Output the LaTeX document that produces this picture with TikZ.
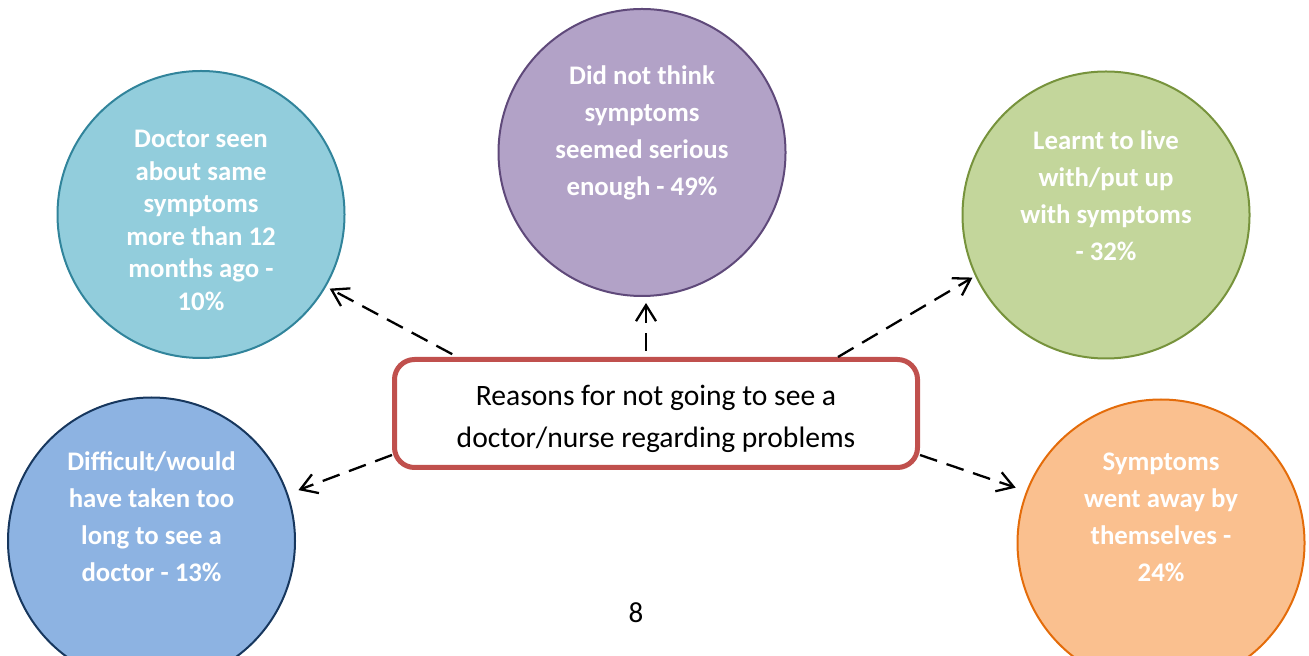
\documentclass[tikz,border=0pt]{standalone}
\usepackage{fontspec}
\setmainfont{Carlito}
\usetikzlibrary{arrows.meta}

\definecolor{seenfill}{HTML}{92CDDC}
\definecolor{seenline}{HTML}{31849B}
\definecolor{seriousfill}{HTML}{B2A2C7}
\definecolor{seriousline}{HTML}{5F497A}
\definecolor{livefill}{HTML}{C3D69B}
\definecolor{liveline}{HTML}{77933C}
\definecolor{longfill}{HTML}{8DB3E2}
\definecolor{longline}{HTML}{17375E}
\definecolor{awayfill}{HTML}{FAC08F}
\definecolor{awayline}{HTML}{E46C0A}
\definecolor{reasonred}{HTML}{C0504D}

\begin{document}
\begin{tikzpicture}[x=0.5pt, y=-0.5pt,
    bubble/.style={circle, minimum size=143.5pt, inner sep=0pt, line width=1pt},
    bubtext/.style={text=white, align=center, font=\bfseries\fontsize{13.4}{18.5}\selectfont},
    link/.style={line width=1.15pt, dash pattern=on 9pt off 5pt, -{Straight Barb[length=8pt, width=10pt]}}]

    \useasboundingbox (0,0) rectangle (1309,656);

    \node[bubble, draw=seenline, fill=seenfill] (seen) at (201,214.5) {};

    \node[bubble, draw=seriousline, fill=seriousfill] (serious) at (642,152.5) {};

    \node[bubble, draw=liveline, fill=livefill] (live) at (1106,215) {};

    \node[bubble, draw=longline, fill=longfill] (long) at (151.5,541) {};

    \node[bubble, draw=awayline, fill=awayfill] (away) at (1161,543) {};

    \node[bubtext, font=\bfseries\fontsize{13.4}{16.25}\selectfont] (seentext) at (201,220.5) {Doctor seen\\about same\\symptoms\\more than 12\\months ago -\\10\%};

    \node[bubtext] (serioustext) at (642,132.75) {Did not think\\symptoms\\seemed serious\\enough - 49\%};

    \node[bubtext] (livetext) at (1106,195.5) {Learnt to live\\with/put up\\with symptoms\\- 32\%};

    \node[bubtext] (longtext) at (151.5,517) {Difficult/would\\have taken too\\long to see a\\doctor - 13\%};

    \node[bubtext] (awaytext) at (1161,517) {Symptoms\\went away by\\themselves -\\24\%};

    \node[rectangle, rounded corners=10pt, draw=reasonred, line width=2.5pt, fill=white,
        minimum width=261.5pt, minimum height=54pt] (reason) at (656,413.5) {};

    \node[align=center, font=\fontsize{14.8}{21}\selectfont] (reasontext) at (656,419)
        {Reasons for not going to see a\\doctor/nurse regarding problems};

    \node[font=\fontsize{14.5}{17}\selectfont] (page) at (636,613) {8};

    \draw[link, shorten <=3pt, shorten >=2pt] ([xshift=32.75pt]reason.north west) -- (seen.-30);

    \draw[link, shorten <=3pt, shorten >=3pt] ([xshift=-5pt]reason.north) -- ([xshift=-5pt]reason.north |- serious.south);

    \draw[link, shorten >=1.5pt] ([xshift=-41pt]reason.north east) -- (live.-155.7);

    \draw[link, shorten >=5.5pt] ([yshift=-20.75pt]reason.west) -- (long.19.9);

    \draw[link, shorten >=5.5pt] ([yshift=-20.75pt]reason.east) -- (away.159.4);

\end{tikzpicture}
\end{document}
